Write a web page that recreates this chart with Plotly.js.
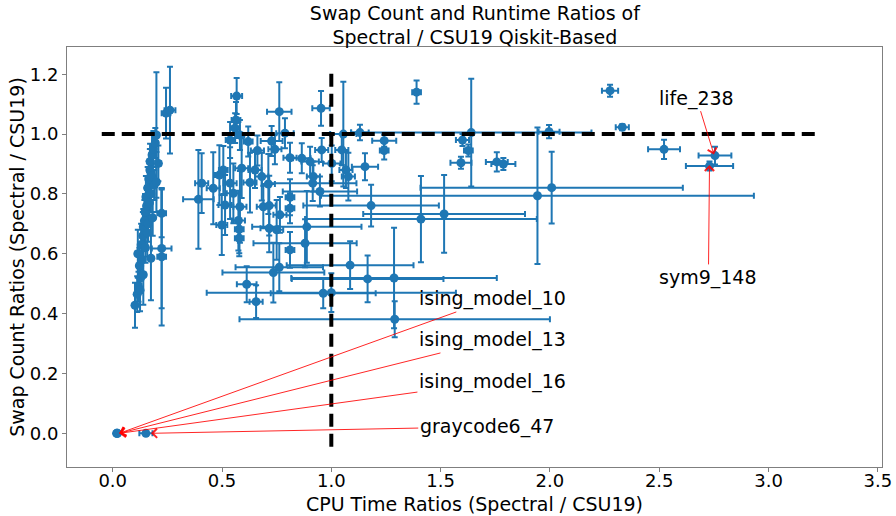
<!DOCTYPE html>
<html>
<head>
<meta charset="utf-8">
<script src="https://cdn.plot.ly/plotly-3.0.1.min.js"></script>
<style>html,body{margin:0;padding:0;background:#fff;}#chart{width:896px;height:516px;}</style>
</head>
<body>
<div id="chart"></div>
<script>
// CPU time ratio (Spectral / CSU19), swap count ratio, and their error estimates
const cpuRatio = [
  0.102,0.112,0.118,0.125,0.115,0.122,0.128,0.130,0.135,0.138,0.140,0.145,0.148,0.150,0.152,0.155,0.158,0.160,0.162,0.165,
  0.168,0.170,0.171,0.175,0.178,0.180,0.183,0.186,0.190,0.195,0.200,0.209,0.175,0.224,0.224,0.224,0.244,0.262,0.200,0.140,
  0.392,0.407,0.460,0.488,0.506,0.499,0.514,0.537,0.537,0.552,0.564,0.567,0.560,0.582,0.582,0.590,0.575,0.579,0.579,0.620,
  0.613,0.628,0.651,0.656,0.662,0.682,0.689,0.712,0.716,0.716,0.727,0.735,0.742,0.750,0.762,0.762,0.765,0.788,0.811,0.811,
  0.811,0.811,0.865,0.880,0.888,0.903,0.915,0.918,0.948,0.953,0.956,0.963,1.000,1.002,1.048,1.055,1.067,1.078,1.086,1.131,
  1.154,1.166,1.182,1.242,1.242,1.287,1.290,1.390,1.410,1.516,1.593,1.600,1.627,1.640,1.757,1.787,1.943,1.996,2.008,2.275,
  2.331,2.522,2.755,2.730,0.018,0.020,0.022,0.152
];
const swapRatio = [
  0.428,0.465,0.490,0.478,0.600,0.560,0.520,0.630,0.580,0.660,0.690,0.710,0.740,0.620,0.790,0.760,0.670,0.820,0.700,0.850,
  0.770,0.880,0.908,0.800,0.860,0.930,0.720,0.950,0.830,0.970,0.997,0.902,0.585,0.735,0.618,0.590,1.070,1.080,0.840,0.530,
  0.782,0.836,0.819,0.863,0.880,0.696,0.763,0.836,0.980,0.802,1.047,1.127,1.020,0.997,0.757,0.886,0.711,0.682,0.652,0.975,
  0.498,0.838,0.880,0.440,0.945,0.858,0.757,0.833,0.761,0.685,0.977,0.537,0.949,0.680,0.555,1.075,0.730,1.003,0.921,0.789,
  0.752,0.613,0.919,0.635,0.690,0.908,0.836,0.858,0.808,1.086,0.947,0.468,0.470,0.902,0.947,1.000,0.880,0.858,0.562,1.005,
  0.891,0.516,0.761,0.978,0.945,0.519,0.381,1.140,0.716,0.733,0.904,0.980,0.945,1.005,0.907,0.900,0.794,1.008,0.821,1.145,
  1.023,0.949,0.928,0.893,0.000,0.000,0.000,0.000
];
const cpuErr = [
  0.010,0.010,0.010,0.012,0.010,0.010,0.010,0.012,0.010,0.012,0.012,0.012,0.012,0.010,0.012,0.012,0.010,0.012,0.012,0.012,
  0.010,0.012,0.012,0.012,0.012,0.012,0.010,0.012,0.012,0.012,0.012,0.012,0.010,0.020,0.045,0.020,0.020,0.025,0.012,0.010,
  0.070,0.030,0.030,0.020,0.020,0.025,0.030,0.030,0.020,0.030,0.020,0.025,0.020,0.020,0.030,0.030,0.030,0.020,0.020,0.020,
  0.045,0.030,0.030,0.030,0.030,0.030,0.030,0.030,0.030,0.040,0.050,0.233,0.030,0.030,0.200,0.056,0.030,0.040,0.030,0.020,
  0.020,0.020,0.040,0.236,0.250,0.040,0.200,0.030,0.170,0.040,0.030,0.240,0.570,0.040,0.030,0.060,0.030,0.030,0.290,0.040,
  0.060,0.347,0.310,0.055,0.020,0.470,0.710,0.020,0.530,0.370,0.048,0.030,0.020,0.550,0.050,0.055,0.990,0.048,0.600,0.037,
  0.030,0.073,0.075,0.108,0.005,0.005,0.005,0.030
];
const swapErr = [
  0.075,0.060,0.050,0.070,0.080,0.060,0.050,0.070,0.060,0.080,0.060,0.070,0.060,0.050,0.070,0.060,0.080,0.070,0.060,0.060,
  0.050,0.070,0.060,0.060,0.050,0.070,0.060,0.060,0.050,0.050,0.210,0.060,0.140,0.080,0.200,0.230,0.085,0.145,0.100,0.100,
  0.165,0.100,0.120,0.100,0.080,0.100,0.100,0.120,0.060,0.100,0.060,0.060,0.050,0.050,0.120,0.100,0.100,0.080,0.060,0.050,
  0.060,0.100,0.060,0.055,0.050,0.080,0.070,0.100,0.100,0.080,0.050,0.100,0.050,0.100,0.080,0.098,0.060,0.050,0.050,0.060,
  0.050,0.060,0.050,0.080,0.120,0.050,0.060,0.050,0.050,0.058,0.040,0.050,0.065,0.060,0.050,0.175,0.060,0.080,0.080,0.026,
  0.045,0.078,0.070,0.020,0.030,0.168,0.060,0.039,0.144,0.130,0.020,0.020,0.020,0.180,0.032,0.020,0.228,0.022,0.120,0.020,
  0.010,0.032,0.030,0.015,0.000,0.000,0.000,0.000
];

// labelled benchmarks: name, pointed-at value, label position
const labelNames = ["ising_model_10","ising_model_13","ising_model_16","graycode6_47","life_238","sym9_148"];
const labelTipX  = [0.03, 0.03, 0.03, 0.175, 2.750, 2.730];
const labelTipY  = [0.00, 0.00, 0.00, 0.000, 0.932, 0.897];
const labelTextX = [1.737, 1.737, 1.737, 1.711, 2.671, 2.725];
const labelTextY = [0.449, 0.312, 0.1725, 0.022, 1.120, 0.521];

const xTicks = [0, 0.5, 1.0, 1.5, 2.0, 2.5, 3.0, 3.5];
const yTicks = [0, 0.2, 0.4, 0.6, 0.8, 1.0, 1.2];

const blue = '#1f77b4';
const font = 'DejaVu Sans, Liberation Sans, sans-serif';

const trace = {
  type: 'scatter', mode: 'markers',
  x: cpuRatio, y: swapRatio,
  marker: {color: blue, size: 9},
  error_x: {type: 'data', array: cpuErr, visible: true, color: blue, thickness: 2, width: 3},
  error_y: {type: 'data', array: swapErr, visible: true, color: blue, thickness: 2, width: 3},
  hoverinfo: 'x+y', showlegend: false
};

const annotations = labelNames.map((n, i) => ({
  text: n, x: labelTipX[i], y: labelTipY[i], xref: 'x', yref: 'y',
  ax: labelTextX[i], ay: labelTextY[i], axref: 'x', ayref: 'y',
  showarrow: true, arrowcolor: 'rgba(255,0,0,0.85)', arrowwidth: 1, arrowhead: 4, arrowsize: 1.8,
  font: {family: font, size: 19, color: '#000'}
}));

const axisCommon = {
  showgrid: false, zeroline: false, showline: true, mirror: true,
  linecolor: '#7f7f7f', linewidth: 1, ticks: 'outside', ticklen: 4, tickcolor: '#7f7f7f',
  tickfont: {family: font, size: 18, color: '#000'}, tickformat: '.1f', tickmode: 'array'
};

const layout = {
  width: 896, height: 516,
  margin: {l: 67, r: 14, t: 47, b: 49},
  paper_bgcolor: '#fff', plot_bgcolor: '#fff',
  title: {text: 'Swap Count and Runtime Ratios of<br>Spectral / CSU19 Qiskit-Based',
          font: {family: font, size: 19, color: '#000'}, x: 0.53, xanchor: 'center', y: 0.962, yanchor: 'top'},
  xaxis: Object.assign({}, axisCommon, {range: [-0.209, 3.519], tickvals: xTicks, ticklabelstandoff: -7,
          title: {text: 'CPU Time Ratios (Spectral / CSU19)', font: {family: font, size: 19, color: '#000'}, standoff: 8}}),
  yaxis: Object.assign({}, axisCommon, {range: [-0.1126, 1.291], tickvals: yTicks,
          title: {text: 'Swap Count Ratios (Spectral / CSU19)', font: {family: font, size: 19, color: '#000'}, standoff: 0}}),
  shapes: [
    {type: 'line', xref: 'x', yref: 'y', x0: -0.05, x1: 3.23, y0: 1.0, y1: 1.0, layer: 'above',
     line: {color: '#000', width: 4, dash: '13px,7px'}},
    {type: 'line', xref: 'x', yref: 'y', x0: 1.0, x1: 1.0, y0: -0.045, y1: 1.215, layer: 'above',
     line: {color: '#000', width: 4, dash: '13px,7px'}}
  ],
  annotations: annotations
};

Plotly.newPlot('chart', [trace], layout, {staticPlot: true, displayModeBar: false});
</script>
</body>
</html>
